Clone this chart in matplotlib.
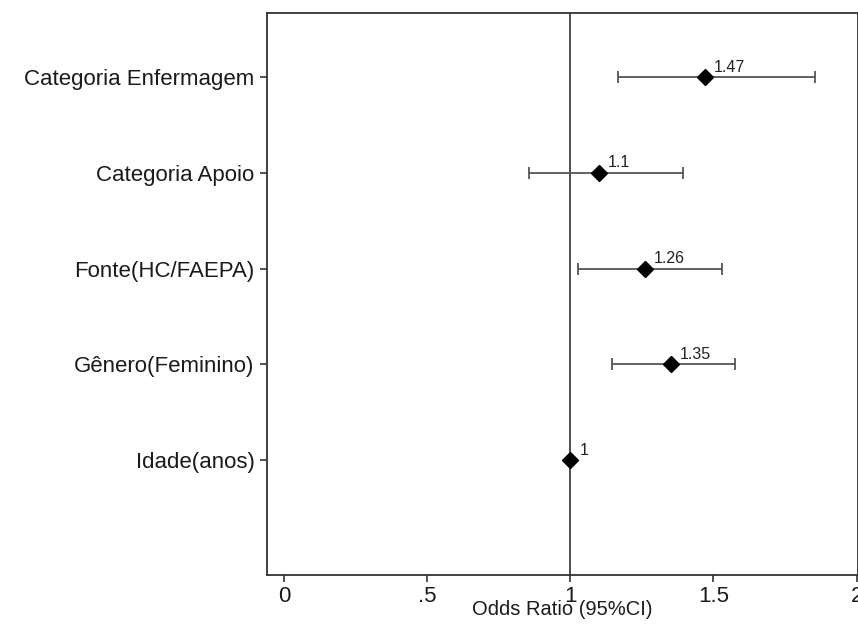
import matplotlib
matplotlib.use("Agg")
import matplotlib.pyplot as plt

plt.rcParams['font.family'] = ['Liberation Sans', 'DejaVu Sans']

categories = ["Categoria Enfermagem", "Categoria Apoio", "Fonte(HC/FAEPA)",
              "Gênero(Feminino)", "Idade(anos)"]
odds = [1.47, 1.10, 1.26, 1.35, 1.00]
lower = [1.166, 0.855, 1.027, 1.146, 1.00]
upper = [1.856, 1.394, 1.531, 1.576, 1.00]
value_labels = ["1.47", "1.1", "1.26", "1.35", "1"]
xticks = [0, 0.5, 1, 1.5, 2]
xticklabels = ["0", ".5", "1", "1.5", "2"]

fig = plt.figure(figsize=(8.58, 6.28), dpi=100)
ax = fig.add_axes([267/858, 1-575/628, (858-267)/858, (575-13)/628])

ypos = list(range(len(categories), 0, -1))
ax.axvline(1, color='#404040', lw=1.3, zorder=1)
for y, o, lo, hi, lab in zip(ypos, odds, lower, upper, value_labels):
    if hi > lo:
        ax.errorbar([o], [y], xerr=[[o-lo], [hi-o]], fmt='none', ecolor='#555555',
                    elinewidth=1.3, capsize=4, capthick=1.3, zorder=2)
    ax.plot([o], [y], marker='D', color='black', markersize=8, zorder=3)
    ax.annotate(lab, (o, y), xytext=(6.5, 4), textcoords='offset points',
                fontsize=11.5, color='#222222', ha='left', va='baseline')

ax.set_xlim(-0.06, 2.005)
ax.set_ylim(-0.2, 5.67)
ax.set_yticks(ypos)
ax.set_yticklabels(categories, fontsize=16, color='#1a1a1a')
ax.set_xticks(xticks)
ax.set_xticklabels(xticklabels, fontsize=16, color='#1a1a1a')
ax.tick_params(axis='both', direction='out', length=5, width=1.2, color='#333333')
ax.tick_params(axis='x', pad=3)
ax.tick_params(axis='y', pad=4)
ax.set_xlabel("Odds Ratio (95%CI)", fontsize=14.5, color='#1a1a1a', labelpad=-5)
for s in ax.spines.values():
    s.set_color('#333333')
    s.set_linewidth(1.3)

fig.savefig("out.png", dpi=100)
